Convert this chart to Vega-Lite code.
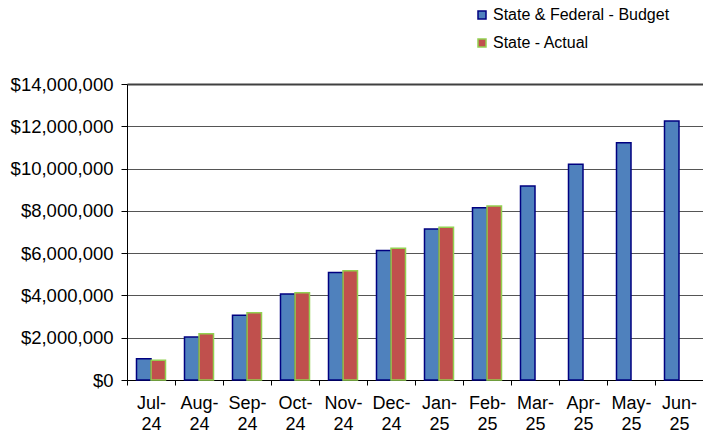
{
  "$schema": "https://vega.github.io/schema/vega-lite/v6.json",
  "width": 576,
  "height": 296,
  "autosize": {"type": "none"},
  "padding": {"left": 127, "top": 84, "right": 0, "bottom": 57},
  "background": "white",
  "config": {
    "view": {"stroke": null},
    "font": "Liberation Sans"
  },
  "data": {
    "values": [
      {"month": "Jul-24", "series": "State & Federal - Budget", "amount": 1010000},
      {"month": "Jul-24", "series": "State - Actual", "amount": 930000},
      {"month": "Aug-24", "series": "State & Federal - Budget", "amount": 2030000},
      {"month": "Aug-24", "series": "State - Actual", "amount": 2190000},
      {"month": "Sep-24", "series": "State & Federal - Budget", "amount": 3060000},
      {"month": "Sep-24", "series": "State - Actual", "amount": 3180000},
      {"month": "Oct-24", "series": "State & Federal - Budget", "amount": 4070000},
      {"month": "Oct-24", "series": "State - Actual", "amount": 4130000},
      {"month": "Nov-24", "series": "State & Federal - Budget", "amount": 5090000},
      {"month": "Nov-24", "series": "State - Actual", "amount": 5170000},
      {"month": "Dec-24", "series": "State & Federal - Budget", "amount": 6120000},
      {"month": "Dec-24", "series": "State - Actual", "amount": 6230000},
      {"month": "Jan-25", "series": "State & Federal - Budget", "amount": 7140000},
      {"month": "Jan-25", "series": "State - Actual", "amount": 7220000},
      {"month": "Feb-25", "series": "State & Federal - Budget", "amount": 8150000},
      {"month": "Feb-25", "series": "State - Actual", "amount": 8230000},
      {"month": "Mar-25", "series": "State & Federal - Budget", "amount": 9180000},
      {"month": "Apr-25", "series": "State & Federal - Budget", "amount": 10200000},
      {"month": "May-25", "series": "State & Federal - Budget", "amount": 11220000},
      {"month": "Jun-25", "series": "State & Federal - Budget", "amount": 12250000}
    ]
  },
  "mark": {"type": "bar", "strokeWidth": 1.5},
  "encoding": {
    "x": {
      "field": "month",
      "type": "nominal",
      "sort": null,
      "scale": {"paddingInner": 0, "paddingOuter": 0},
      "axis": {
        "title": null,
        "labelAngle": 0,
        "labelExpr": "datum.label ? [split(datum.label, '-')[0] + '-', split(datum.label, '-')[1]] : ''",
        "labelFontSize": 18,
        "labelColor": "#000000",
        "labelLineHeight": 21,
        "labelPadding": 9,
        "tickBand": "extent",
        "tickSize": 5,
        "tickColor": "#000000",
        "domainColor": "#000000",
        "grid": false
      }
    },
    "xOffset": {
      "field": "series",
      "type": "nominal",
      "scale": {"domain": ["State & Federal - Budget", "State - Actual"], "paddingInner": 0, "paddingOuter": 0.655}
    },
    "y": {
      "field": "amount",
      "type": "quantitative",
      "scale": {"domain": [0, 14000000], "nice": false},
      "axis": {
        "title": null,
        "values": [0, 2000000, 4000000, 6000000, 8000000, 10000000, 12000000, 14000000],
        "format": "$,.0f",
        "labelFontSize": 18.5,
        "labelColor": "#000000",
        "labelPadding": 8,
        "tickSize": 6,
        "tickColor": "#000000",
        "domainColor": "#000000",
        "grid": true,
        "gridColor": {"condition": {"test": "datum.value === 14000000", "value": "#404040"}, "value": "#555555"},
        "gridWidth": {"condition": {"test": "datum.value === 14000000", "value": 2}, "value": 1}
      }
    },
    "fill": {
      "field": "series",
      "type": "nominal",
      "scale": {"domain": ["State & Federal - Budget", "State - Actual"], "range": ["#4F81BD", "#C0504D"]},
      "legend": {
        "title": null,
        "orient": "none",
        "legendX": 347,
        "legendY": -77,
        "padding": 0,
        "symbolType": "square",
        "symbolSize": 64,
        "labelFontSize": 16,
        "labelColor": "#000000",
        "labelLimit": 300,
        "labelOffset": 3,
        "rowPadding": 12
      }
    },
    "stroke": {
      "field": "series",
      "type": "nominal",
      "scale": {"domain": ["State & Federal - Budget", "State - Actual"], "range": ["#000080", "#92D050"]},
      "legend": null
    }
  }
}
